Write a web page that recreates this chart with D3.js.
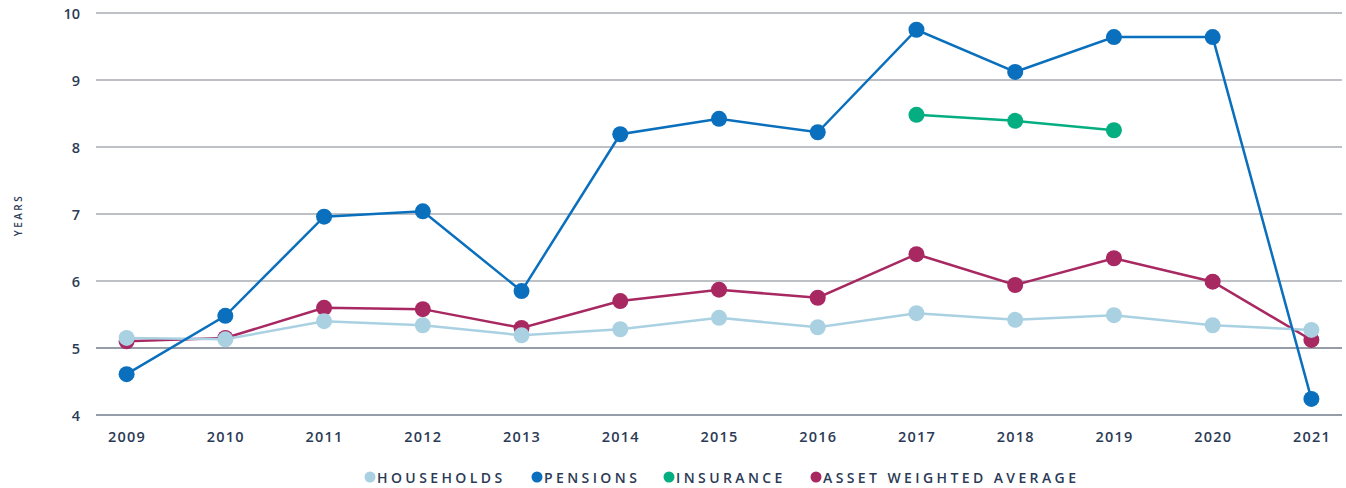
<!DOCTYPE html>
<html><head><meta charset="utf-8">
<script src="https://cdn.jsdelivr.net/npm/d3@7"></script>
<style>
html,body{margin:0;padding:0;background:#fff;}
svg text{font-family:"Open Sans","Lato",sans-serif;fill:#2b3a55;font-weight:600;}
</style></head>
<body><svg id="c" width="1346" height="488"></svg>
<script>
const years = [2009,2010,2011,2012,2013,2014,2015,2016,2017,2018,2019,2020,2021];
const households = [5.15,5.13,5.40,5.34,5.19,5.28,5.45,5.31,5.52,5.42,5.49,5.34,5.27];
const pensions = [4.61,5.48,6.96,7.04,5.85,8.19,8.42,8.22,9.75,9.12,9.64,9.64,4.24];
const insurance = [null,null,null,null,null,null,null,null,8.48,8.39,8.25,null,null];
const awa = [5.10,5.15,5.60,5.58,5.30,5.70,5.87,5.75,6.40,5.94,6.34,5.99,5.12];
const yTicks = [4,5,6,7,8,9,10];
const seriesNames = ["HOUSEHOLDS","PENSIONS","INSURANCE","ASSET WEIGHTED AVERAGE"];
const colors = ["#a9d1e2","#0a6fbc","#05ae80","#a82862"];

const svg = d3.select("#c");
const x = d3.scalePoint().domain(years).range([96,1342]).padding(0.31);
const y = d3.scaleLinear().domain([4,10]).range([415,13]);

svg.append("g").selectAll("line").data(yTicks).join("line")
  .attr("x1",96).attr("x2",1342)
  .attr("y1",d=>y(d)).attr("y2",d=>y(d))
  .attr("stroke",d=>d<=5?"#2e3b52":"#7d838e").attr("stroke-width",1.2);

const yAxis = svg.append("g").attr("transform","translate(96,0)")
  .call(d3.axisLeft(y).tickValues(yTicks).tickSize(0).tickPadding(16).tickFormat(d3.format("d")));
yAxis.select(".domain").remove();
yAxis.selectAll("text").attr("font-size",14.5).attr("dy","0.35em").attr("fill","#2b3a55")
  .style("font-family","'Open Sans', sans-serif").style("font-weight",600);

const xAxis = svg.append("g").attr("transform","translate(0,415)")
  .call(d3.axisBottom(x).tickSize(0).tickPadding(17).tickFormat(d3.format("d")));
xAxis.select(".domain").remove();
xAxis.selectAll("text").attr("font-size",14.5).attr("letter-spacing","1.2px").attr("fill","#2b3a55")
  .style("font-family","'Open Sans', sans-serif").style("font-weight",600);

svg.append("text").attr("transform","translate(22,215) rotate(-90)")
  .attr("text-anchor","middle").attr("font-size",10).attr("letter-spacing","2.5px").text("YEARS");

const series = [
  {vals:awa,c:colors[3]},
  {vals:households,c:colors[0]},
  {vals:pensions,c:colors[1]},
  {vals:insurance,c:colors[2]}
];
const line = d3.line().defined(d=>d.v!=null).x(d=>x(d.yr)).y(d=>y(d.v));
series.forEach(s=>{
  const pts = years.map((yr,i)=>({yr,v:s.vals[i]}));
  const g = svg.append("g");
  g.append("path").datum(pts).attr("d",line).attr("fill","none")
   .attr("stroke",s.c).attr("stroke-width",2.5);
  g.selectAll("circle").data(pts.filter(d=>d.v!=null)).join("circle")
   .attr("cx",d=>x(d.yr)).attr("cy",d=>y(d.v)).attr("r",8).attr("fill",s.c);
});

const legX = [370,537,669,816];
const lg = svg.append("g");
seriesNames.forEach((n,i)=>{
  lg.append("circle").attr("cx",legX[i]).attr("cy",477).attr("r",5.5).attr("fill",colors[i]);
  lg.append("text").attr("x",legX[i]+7).attr("y",482.5).attr("font-size",14)
    .attr("letter-spacing","3.4px").text(n);
});
</script></body></html>
